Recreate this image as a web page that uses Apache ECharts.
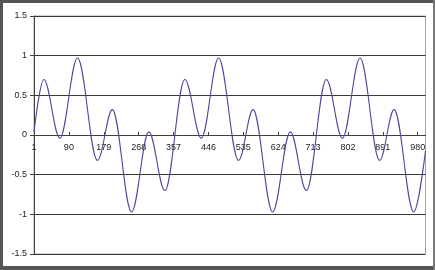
<!DOCTYPE html>
<html>
<head>
<meta charset="utf-8">
<script src="https://cdn.jsdelivr.net/npm/echarts@6/dist/echarts.min.js"></script>
<style>
html,body{margin:0;padding:0;background:#fff;}
#c{width:435px;height:270px;}
</style>
</head>
<body>
<div id="c"></div>
<script>
// Number of rows (categories 1..N)
const rowCount = 1000;
// Y tick values
const yTicks = [-1.5, -1, -0.5, 0, 0.5, 1, 1.5];
// Key points of the curve: row index and value (peaks, troughs, ends)
const keyIndex = [1, 26, 67, 112, 163, 201, 250, 294, 335, 386, 428, 472, 523, 560, 610, 655, 696, 747, 788, 833, 883, 920, 970, 1000];
const keyValue = [0.04, 0.70, -0.04, 0.97, -0.32, 0.32, -0.97, 0.04, -0.70, 0.70, -0.04, 0.97, -0.32, 0.32, -0.97, 0.04, -0.70, 0.70, -0.04, 0.97, -0.32, 0.32, -0.97, -0.20];

const categories = [];
for (let k = 1; k <= rowCount; k++) categories.push(String(k));
const seriesData = new Array(rowCount).fill(null);
keyIndex.forEach((idx, j) => { seriesData[idx - 1] = keyValue[j]; });

const chart = echarts.init(document.getElementById('c'), null, {renderer: 'canvas'});
const font = '"Liberation Sans", Arial, sans-serif';
chart.setOption({
  animation: false,
  backgroundColor: '#ffffff',
  grid: {left: 34, right: 9.5, top: 16, bottom: 16, show: true, borderColor: '#a6a6a6', borderWidth: 1},
  xAxis: {
    type: 'category',
    data: categories,
    boundaryGap: false,
    offset: -119,
    axisLine: {onZero: false, lineStyle: {color: '#404040', width: 1}},
    axisTick: {show: true, inside: true, length: 3, interval: 88, alignWithLabel: true, lineStyle: {color: '#404040'}},
    axisLabel: {interval: 88, margin: 8, fontFamily: font, fontSize: 9, color: '#222'},
    splitLine: {show: false}
  },
  yAxis: {
    type: 'value',
    min: yTicks[0], max: yTicks[yTicks.length - 1], interval: 0.5,
    axisLine: {show: true, onZero: false, lineStyle: {color: '#404040', width: 1}},
    axisTick: {show: true, length: 4, lineStyle: {color: '#404040'}},
    axisLabel: {margin: 7, fontFamily: font, fontSize: 9, color: '#222'},
    splitLine: {show: true, lineStyle: {color: '#3a3a3a', width: 1}}
  },
  series: [{
    type: 'line',
    data: seriesData,
    connectNulls: true,
    smooth: 0.36,
    smoothMonotone: 'x',
    showSymbol: false,
    lineStyle: {color: '#4a4a9c', width: 1.1},
    z: 3
  }],
  graphic: [
    {type: 'rect', shape: {x: 0, y: 0, width: 3, height: 270}, style: {fill: '#555'}, silent: true},
    {type: 'rect', shape: {x: 0, y: 0, width: 435, height: 3}, style: {fill: '#555'}, silent: true},
    {type: 'rect', shape: {x: 0, y: 266, width: 435, height: 4}, style: {fill: '#555'}, silent: true},
    {type: 'rect', shape: {x: 433, y: 0, width: 2, height: 270}, style: {fill: '#777'}, silent: true}
  ]
});
</script>
</body>
</html>
